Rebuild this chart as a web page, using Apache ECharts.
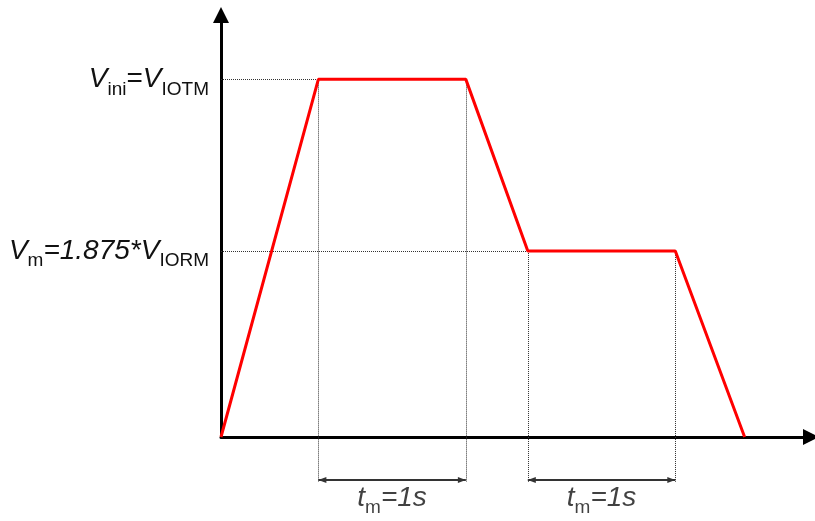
<!DOCTYPE html>
<html>
<head>
<meta charset="utf-8">
<script src="https://cdn.jsdelivr.net/npm/echarts@6/dist/echarts.min.js"></script>
<style>
  html, body { margin: 0; padding: 0; background: #fff; }
  #chart { width: 815px; height: 521px; }
</style>
</head>
<body>
<div id="chart"></div>
<script>
// Test voltage profile: time (s) against voltage relative to V_IOTM
const times = [0, 0.66, 1.66, 2.08, 3.08, 3.55];
const volts = [0, 1.0, 1.0, 0.52, 0.52, 0];

// Voltage levels named on the vertical axis
const levelValues = [1.0, 0.52];
const levelLabels = [
  '{v|V}{s|ini}{n|=}{v|V}{s|IOTM}',
  '{v|V}{s|m}{v|=1.875*V}{s|IORM}'
];

// Hold intervals marked under the time axis
const holdStarts = [0.66, 2.08];
const holdEnds = [1.66, 3.08];
const holdLabels = ['{v|t}{s|m}{v|=1s}', '{v|t}{s|m}{v|=1s}'];

// Axis extents and the depth of the interval markers below zero
const xMax = 4.0;
const yMax = 1.18;
const guideBottom = -0.125;
const arrowLevel = -0.12;
const holdLabelLevel = -0.17;

const FONT = '"Liberation Sans", Arial, sans-serif';
const richStyles = {
  v: { fontFamily: FONT, fontSize: 28, fontStyle: 'italic', color: '#111' },
  n: { fontFamily: FONT, fontSize: 28, color: '#111' },
  s: { fontFamily: FONT, fontSize: 19, color: '#111', padding: [20, 0, 0, 0] }
};

// Arrowhead whose tip sits at the centre of its symbol box,
// so it ends exactly on the line end point
const ARROW_HEAD = 'path://M0,0L3,8L-3,8ZM-8,-8M8,8';

const profile = times.map((t, i) => [t, volts[i]]);

// Dotted guides: horizontal from the voltage axis to each plateau start,
// vertical from every plateau corner down to the interval markers
const guides = [];
[1, 3].forEach(i => guides.push({ coords: [[0, volts[i]], [times[i], volts[i]]] }));
[1, 2, 3, 4].forEach(i => guides.push({ coords: [[times[i], volts[i]], [times[i], guideBottom]] }));

const spans = holdStarts.map((s, i) => ({ coords: [[s, arrowLevel], [holdEnds[i], arrowLevel]] }));
const spanLabels = holdStarts.map((s, i) => ({
  value: [(s + holdEnds[i]) / 2, holdLabelLevel],
  label: { formatter: holdLabels[i] }
}));

const chart = echarts.init(document.getElementById('chart'), null, { renderer: 'canvas' });
chart.setOption({
  backgroundColor: '#fff',
  animation: false,
  grid: { left: 221, right: 4, top: 15, bottom: 84, outerBoundsMode: 'none' },
  xAxis: {
    type: 'value', min: 0, max: xMax,
    axisLine: {
      show: true, onZero: false,
      lineStyle: { color: '#000', width: 3 },
      symbol: ['none', 'triangle'], symbolSize: [16, 16]
    },
    axisTick: { show: false },
    axisLabel: { show: false },
    splitLine: { show: false }
  },
  yAxis: {
    type: 'value', min: 0, max: yMax,
    axisLine: {
      show: true, onZero: false,
      lineStyle: { color: '#000', width: 3 },
      symbol: ['none', 'triangle'], symbolSize: [16, 16]
    },
    axisTick: { show: false },
    splitLine: { show: false },
    axisLabel: {
      customValues: levelValues,
      formatter: v => levelLabels[levelValues.indexOf(v)],
      margin: 12,
      rich: richStyles
    }
  },
  series: [
    {
      type: 'lines', coordinateSystem: 'cartesian2d', clip: false, silent: true, z: 1,
      lineStyle: { color: '#333', width: 1, type: [1, 1], opacity: 1 },
      data: guides
    },
    {
      type: 'lines', coordinateSystem: 'cartesian2d', clip: false, silent: true, z: 2,
      symbol: [ARROW_HEAD, ARROW_HEAD], symbolSize: 16,
      lineStyle: { color: '#333', width: 2, opacity: 1 },
      data: spans
    },
    {
      type: 'line', data: profile, symbol: 'none', z: 3, clip: false,
      lineStyle: { color: '#ff0000', width: 3 }
    },
    {
      type: 'scatter', data: spanLabels, symbolSize: 0, clip: false, silent: true,
      label: { show: true, position: 'inside', rich: richStyles }
    }
  ]
});
</script>
</body>
</html>
